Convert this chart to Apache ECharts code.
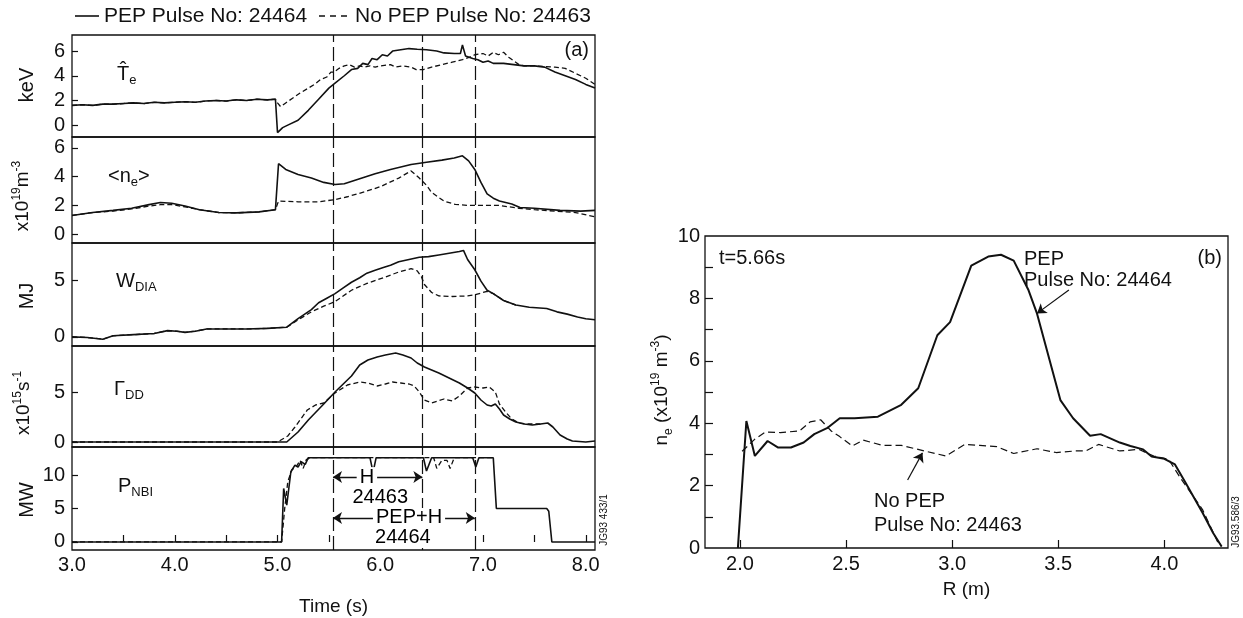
<!DOCTYPE html>
<html>
<head>
<meta charset="utf-8">
<script src="https://cdn.jsdelivr.net/npm/echarts@6.0.0/dist/echarts.min.js"></script>
<style>
html,body{margin:0;padding:0;background:#fff;}
#chart{width:1243px;height:618px;}
</style>
</head>
<body>
<div id="chart"></div>
<script>
// ---------------- DATA ----------------
const solidName = 'PEP Pulse No: 24464';
const dashedName = 'No PEP Pulse No: 24463';

// phase boundaries (s)
const phaseTimes = [5.54, 6.41, 6.92];

// (a) time traces  [t (s), value]
const teSolid = [[3.0,1.6],[3.1,1.65],[3.2,1.6],[3.3,1.7],[3.4,1.7],[3.5,1.75],[3.6,1.8],[3.7,1.75],[3.8,1.85],[3.9,1.8],[4.0,1.85],[4.1,1.9],[4.2,1.85],[4.3,1.95],[4.4,2.0],[4.5,1.95],[4.6,2.05],[4.7,2.0],[4.8,2.1],[4.9,2.05],[4.98,2.1],[5.0,-0.6],[5.05,-0.2],[5.1,0.0],[5.2,0.4],[5.3,1.2],[5.4,2.1],[5.5,3.0],[5.56,3.4],[5.65,4.0],[5.72,4.5],[5.78,4.6],[5.83,5.0],[5.88,4.9],[5.92,5.4],[5.97,5.3],[6.02,5.7],[6.07,5.6],[6.12,6.0],[6.2,6.1],[6.28,6.2],[6.36,6.15],[6.45,6.1],[6.55,6.0],[6.62,5.85],[6.72,5.8],[6.78,5.8],[6.8,6.5],[6.83,5.6],[6.9,5.4],[6.95,5.3],[7.0,5.1],[7.05,5.2],[7.1,5.0],[7.2,5.0],[7.3,4.9],[7.4,4.8],[7.5,4.8],[7.6,4.7],[7.7,4.3],[7.8,4.0],[7.9,3.7],[8.0,3.3],[8.09,3.0]];
const teDashed = [[3.0,1.6],[3.1,1.65],[3.2,1.6],[3.3,1.7],[3.4,1.7],[3.5,1.75],[3.6,1.8],[3.7,1.75],[3.8,1.85],[3.9,1.8],[4.0,1.85],[4.1,1.9],[4.2,1.85],[4.3,1.95],[4.4,2.0],[4.5,1.95],[4.6,2.05],[4.7,2.0],[4.8,2.1],[4.9,2.05],[4.98,2.1],[5.0,1.8],[5.03,1.5],[5.08,1.8],[5.15,2.2],[5.22,2.6],[5.3,3.0],[5.36,3.3],[5.42,3.7],[5.48,3.9],[5.52,4.3],[5.55,4.3],[5.6,4.6],[5.65,4.8],[5.7,4.9],[5.75,4.7],[5.8,4.8],[5.85,4.7],[5.9,4.8],[5.95,4.7],[6.0,4.8],[6.1,4.9],[6.15,4.7],[6.22,4.8],[6.3,4.7],[6.35,4.5],[6.42,4.5],[6.5,4.7],[6.6,4.9],[6.7,5.1],[6.8,5.3],[6.87,5.5],[6.92,5.7],[7.0,5.8],[7.05,5.6],[7.1,5.9],[7.15,5.7],[7.2,5.9],[7.25,5.5],[7.3,5.2],[7.35,4.9],[7.4,4.8],[7.5,4.8],[7.6,4.75],[7.7,4.7],[7.8,4.6],[7.9,4.2],[8.0,3.8],[8.09,3.3]];

const neSolid = [[3.0,1.3],[3.2,1.5],[3.4,1.65],[3.58,1.8],[3.75,2.05],[3.86,2.2],[3.97,2.15],[4.1,1.95],[4.24,1.7],[4.43,1.5],[4.6,1.48],[4.82,1.55],[4.98,1.7],[5.01,4.9],[5.08,4.5],[5.2,4.15],[5.33,3.9],[5.45,3.6],[5.56,3.45],[5.65,3.5],[5.8,3.85],[5.95,4.2],[6.1,4.5],[6.3,4.85],[6.45,5.0],[6.6,5.15],[6.72,5.3],[6.8,5.45],[6.86,5.1],[6.92,4.5],[6.98,3.6],[7.04,2.8],[7.1,2.5],[7.16,2.3],[7.28,2.1],[7.36,1.85],[7.5,1.8],[7.75,1.65],[7.95,1.6],[8.09,1.65]];
const neDashed = [[3.0,1.3],[3.2,1.5],[3.4,1.6],[3.58,1.75],[3.75,1.95],[3.86,2.05],[3.97,2.05],[4.1,1.9],[4.24,1.7],[4.43,1.5],[4.6,1.48],[4.82,1.55],[4.98,1.7],[5.01,2.3],[5.2,2.25],[5.4,2.25],[5.56,2.4],[5.68,2.6],[5.85,2.95],[6.0,3.3],[6.18,3.9],[6.3,4.4],[6.38,3.9],[6.45,3.4],[6.5,2.9],[6.62,2.3],[6.73,2.07],[6.85,2.0],[7.0,2.0],[7.15,2.0],[7.25,1.9],[7.35,1.8],[7.5,1.7],[7.7,1.6],[7.9,1.5],[8.09,1.2]];

const wSolid = [[3.0,0.0],[3.15,-0.05],[3.3,-0.2],[3.4,0.1],[3.6,0.2],[3.8,0.3],[3.93,0.55],[4.02,0.5],[4.1,0.4],[4.2,0.5],[4.31,0.7],[4.5,0.7],[4.7,0.7],[4.9,0.75],[5.09,0.85],[5.2,1.6],[5.33,2.4],[5.4,3.0],[5.48,3.4],[5.56,3.8],[5.64,4.3],[5.72,4.8],[5.8,5.2],[5.87,5.6],[5.95,5.85],[6.03,6.1],[6.1,6.3],[6.18,6.6],[6.28,6.8],[6.38,7.0],[6.47,7.05],[6.57,7.2],[6.67,7.35],[6.77,7.5],[6.81,7.6],[6.85,6.8],[6.92,5.9],[6.98,4.9],[7.04,4.1],[7.1,3.8],[7.2,3.2],[7.32,2.8],[7.45,2.6],[7.62,2.5],[7.72,2.2],[7.82,2.0],[7.92,1.75],[8.0,1.6],[8.09,1.5]];
const wDashed = [[3.0,0.0],[3.15,-0.05],[3.3,-0.2],[3.4,0.1],[3.6,0.2],[3.8,0.3],[3.93,0.55],[4.02,0.5],[4.1,0.4],[4.2,0.5],[4.31,0.7],[4.5,0.7],[4.7,0.7],[4.9,0.75],[5.09,0.85],[5.2,1.5],[5.33,2.2],[5.45,2.7],[5.56,3.1],[5.72,4.1],[5.87,4.7],[6.03,5.2],[6.18,5.7],[6.3,6.0],[6.36,5.8],[6.4,5.3],[6.43,4.6],[6.5,3.9],[6.57,3.6],[6.7,3.55],[6.85,3.6],[6.92,3.7],[6.98,3.85],[7.04,4.0],[7.1,3.8],[7.2,3.2],[7.32,2.8]];

const gSolid = [[3.0,0],[5.09,0],[5.2,1.0],[5.3,2.2],[5.45,3.8],[5.56,5.0],[5.64,5.8],[5.72,6.6],[5.8,7.7],[5.88,8.2],[5.97,8.5],[6.05,8.7],[6.15,8.9],[6.22,8.7],[6.3,8.4],[6.36,7.9],[6.43,7.5],[6.5,7.2],[6.57,6.9],[6.65,6.5],[6.77,5.9],[6.85,5.4],[6.92,4.9],[6.98,4.2],[7.04,3.7],[7.08,3.6],[7.12,3.8],[7.16,3.3],[7.2,2.7],[7.26,2.3],[7.32,2.0],[7.4,1.8],[7.48,1.7],[7.56,1.8],[7.63,1.9],[7.68,1.5],[7.75,0.7],[7.82,0.3],[7.87,0.1],[8.0,0.0],[8.09,0.1]];
const gDashed = [[3.0,0],[5.0,0],[5.1,0.6],[5.17,1.5],[5.29,3.2],[5.37,3.7],[5.45,3.9],[5.56,4.9],[5.68,5.7],[5.8,6.0],[5.88,5.9],[5.97,5.6],[6.05,5.8],[6.12,6.0],[6.2,5.9],[6.28,5.8],[6.33,5.6],[6.38,5.0],[6.43,4.2],[6.5,3.9],[6.56,4.1],[6.62,4.3],[6.7,4.1],[6.77,4.6],[6.85,5.4],[6.92,5.5],[7.0,5.4],[7.06,5.5],[7.12,5.0],[7.16,3.8],[7.22,3.0],[7.28,2.3],[7.35,1.9],[7.45,1.8],[7.56,1.8]];

const pSolid = [[3.0,0],[5.04,0],[5.06,8.0],[5.09,5.5],[5.13,10.5],[5.17,11.5],[5.2,11.2],[5.23,12.0],[5.27,11.6],[5.3,12.6],[5.9,12.6],[5.93,10.4],[5.96,12.6],[6.42,12.6],[6.45,10.6],[6.5,12.6],[6.9,12.6],[6.93,11.2],[6.96,12.6],[7.1,12.6],[7.13,5.0],[7.62,5.0],[7.64,4.6],[7.67,0],[8.09,0]];
const pDashed = [[3.0,0],[5.04,0],[5.07,5],[5.1,9],[5.14,10.8],[5.18,11.2],[5.22,12.2],[5.25,11.0],[5.28,12.3],[5.32,12.6],[6.52,12.6],[6.55,11.0],[6.6,12.2],[6.65,12.2],[6.68,11.0],[6.72,12.6],[7.1,12.6]];

// tick labels
const timeLabels = [3, 4, 5, 6, 7, 8];
const timeTicks = [3.5, 4, 4.5, 5, 5.5, 6, 6.5, 7, 7.5, 8];
const panelTicks = [[0,2,4,6],[0,2,4,6],[0,5],[0,5],[0,5,10]];
const rLabels = [2.0, 2.5, 3.0, 3.5, 4.0];
const neLabels = [0, 2, 4, 6, 8, 10];
const neMinorTicks = [1, 2, 3, 4, 5, 6, 7, 8, 9];

// (b) profiles  [R (m), n_e]
const profSolid = [[1.99,0],[2.03,4.07],[2.07,2.95],[2.13,3.43],[2.18,3.22],[2.24,3.22],[2.30,3.38],[2.35,3.65],[2.41,3.84],[2.47,4.16],[2.54,4.16],[2.65,4.21],[2.76,4.59],[2.84,5.12],[2.93,6.82],[2.99,7.24],[3.09,9.05],[3.17,9.34],[3.23,9.4],[3.29,9.21],[3.36,8.26],[3.40,7.51],[3.51,4.74],[3.57,4.16],[3.65,3.6],[3.70,3.65],[3.79,3.38],[3.84,3.27],[3.90,3.16],[3.94,2.93],[4.0,2.86],[4.05,2.68],[4.10,2.09],[4.18,1.13],[4.23,0.48],[4.27,0.05]];
const profDashed = [[2.01,3.1],[2.07,3.49],[2.12,3.72],[2.19,3.7],[2.28,3.75],[2.33,4.04],[2.38,4.11],[2.43,3.75],[2.47,3.57],[2.53,3.27],[2.58,3.46],[2.67,3.29],[2.76,3.29],[2.87,3.11],[2.97,2.95],[3.06,3.32],[3.13,3.29],[3.21,3.25],[3.29,3.03],[3.40,3.18],[3.49,3.06],[3.58,3.11],[3.63,3.11],[3.69,3.32],[3.79,3.11],[3.88,3.16],[3.95,2.95],[4.02,2.84],[4.08,2.2],[4.18,1.23],[4.25,0.21],[4.27,0.05]];

// annotations (data coordinates)
const nbiArrows = [[5.54, 6.41, 9.7], [5.54, 6.92, 3.6]];
const nbiText = [[5.87, 9.7, 'H'], [6.0, 6.6, '24463'], [6.28, 3.6, 'PEP+H'], [6.22, 0.6, '24464']];
const profArrows = [[3.55, 8.27, 3.40, 7.52], [2.79, 2.18, 2.86, 3.05]];

// ---------------- CHART ----------------
const FONT = '"Liberation Sans", Arial, Helvetica, sans-serif';
const INK = '#111111';
const chart = echarts.init(document.getElementById('chart'), null, {renderer: 'canvas'});

const leftLayout = [
  {top: 35, height: 102, min: -0.96, max: 7.3},
  {top: 137, height: 106, min: -0.62, max: 6.76},
  {top: 243, height: 103, min: -0.8, max: 8.25},
  {top: 346, height: 101, min: -0.5, max: 9.6},
  {top: 447, height: 103, min: -1.2, max: 14.2}
];
const leftSeries = [[teSolid, teDashed],[neSolid, neDashed],[wSolid, wDashed],[gSolid, gDashed],[pSolid, pDashed]];

const grid = [], xAxis = [], yAxis = [], series = [];
const tickStyle = {color: INK, width: 1.2};
const labelStyle = {color: INK, fontSize: 20, fontFamily: FONT};

leftLayout.forEach((L, i) => {
  grid.push({left: 72, width: 523, top: L.top, height: L.height, show: true,
    borderColor: INK, borderWidth: 1.3, outerBoundsMode: 'none'});
  const last = i === leftLayout.length - 1;
  xAxis.push({type: 'value', gridIndex: i, min: 3.0, max: 8.09,
    axisLine: {show: false}, splitLine: {show: false},
    axisTick: last ? {show: true, inside: true, length: 7, customValues: timeTicks, lineStyle: tickStyle} : {show: false},
    axisLabel: last ? Object.assign({show: true, margin: 5, customValues: timeLabels, formatter: v => v.toFixed(1)}, labelStyle) : {show: false},
    name: last ? 'Time (s)' : '', nameLocation: 'middle', nameGap: 47,
    nameTextStyle: {color: INK, fontSize: 19, fontFamily: FONT}
  });
  yAxis.push({type: 'value', gridIndex: i, min: L.min, max: L.max,
    axisLine: {show: false}, splitLine: {show: false},
    axisTick: {show: true, inside: true, length: 6, customValues: panelTicks[i], lineStyle: tickStyle},
    axisLabel: Object.assign({show: true, margin: 7, customValues: panelTicks[i]}, labelStyle)
  });
  const [sData, dData] = leftSeries[i];
  series.push({type: 'line', name: solidName, xAxisIndex: i, yAxisIndex: i, data: sData,
    showSymbol: false, symbol: 'none', lineStyle: {color: INK, width: 1.6}, itemStyle: {color: INK}, z: 3,
    markLine: {silent: true, symbol: ['none', 'none'], label: {show: false},
      lineStyle: {color: INK, width: 1.2, type: [14, 5]},
      data: phaseTimes.map(t => ({xAxis: t}))}
  });
  series.push({type: 'line', name: dashedName, xAxisIndex: i, yAxisIndex: i, data: dData,
    showSymbol: false, symbol: 'none', lineStyle: {color: INK, width: 1.3, type: [5, 3]}, itemStyle: {color: INK}, z: 2});
});

// NBI annotations
series.push({type: 'scatter', xAxisIndex: 4, yAxisIndex: 4, symbolSize: 1,
  itemStyle: {color: 'rgba(0,0,0,0)'}, z: 10, zlevel: 1,
  data: nbiText.map(d => ({value: [d[0], d[1]], name: d[2]})),
  label: {show: true, position: 'inside', formatter: p => p.name, color: '#000', opacity: 1,
    fontSize: 20, fontFamily: FONT, backgroundColor: '#fff', padding: [0, 3], textBorderWidth: 0},
  emphasis: {disabled: true},
  markLine: {silent: true, symbol: ['arrow', 'arrow'], symbolSize: 9, label: {show: false},
    lineStyle: {color: INK, width: 1.4, type: 'solid'}, z: 1,
    data: nbiArrows.map(a => [{coord: [a[0], a[2]]}, {coord: [a[1], a[2]]}])}
});

// Right panel
grid.push({left: 705, top: 236, width: 523, height: 312, show: true, borderColor: INK, borderWidth: 1.3, outerBoundsMode: 'none'});
xAxis.push({type: 'value', gridIndex: 5, min: 1.835, max: 4.30,
  axisLine: {show: false}, splitLine: {show: false},
  axisTick: {show: true, inside: true, length: 8, customValues: rLabels, lineStyle: tickStyle},
  axisLabel: Object.assign({show: true, margin: 6, customValues: rLabels, formatter: v => v.toFixed(1)}, labelStyle),
  name: 'R (m)', nameLocation: 'middle', nameGap: 32,
  nameTextStyle: {color: INK, fontSize: 19, fontFamily: FONT}
});
yAxis.push({type: 'value', gridIndex: 5, min: 0, max: 10,
  axisLine: {show: false}, splitLine: {show: false},
  axisTick: {show: true, inside: true, length: 8, customValues: neMinorTicks, lineStyle: tickStyle},
  axisLabel: Object.assign({show: true, margin: 5, customValues: neLabels}, labelStyle)
});
series.push({type: 'line', name: solidName, xAxisIndex: 5, yAxisIndex: 5, data: profSolid,
  showSymbol: false, symbol: 'none', lineStyle: {color: INK, width: 2.0}, itemStyle: {color: INK}, z: 3});
series.push({type: 'line', name: dashedName, xAxisIndex: 5, yAxisIndex: 5, data: profDashed,
  showSymbol: false, symbol: 'none', lineStyle: {color: INK, width: 1.2, type: [7, 4]}, itemStyle: {color: INK}, z: 2});
series.push({type: 'scatter', xAxisIndex: 5, yAxisIndex: 5, data: [], symbolSize: 0,
  markLine: {silent: true, symbol: ['none', 'arrow'], symbolSize: 9, label: {show: false},
    lineStyle: {color: INK, width: 1.2, type: 'solid'},
    data: profArrows.map(a => [{coord: [a[0], a[1]]}, {coord: [a[2], a[3]]}])}
});

function richLabel(main, sub, sup) {
  return {
    a: {fontSize: main, fontFamily: FONT, fill: INK, lineHeight: main + 6},
    s: {fontSize: sub, fontFamily: FONT, fill: INK, verticalAlign: 'bottom', lineHeight: sub + 2},
    p: {fontSize: sup, fontFamily: FONT, fill: INK, verticalAlign: 'top', lineHeight: sup + 2}
  };
}
function txt(x, y, text, opts) {
  opts = opts || {};
  return {type: 'text', x: x, y: y, rotation: opts.rot || 0, silent: true, z: 20,
    style: {text: text, fontSize: opts.size || 20, fontFamily: FONT, fill: INK,
      align: opts.align || 'left', verticalAlign: 'middle', rich: opts.rich}};
}
function seg(x1, y1, x2, y2, dash) {
  return {type: 'line', silent: true, z: 20, shape: {x1: x1, y1: y1, x2: x2, y2: y2},
    style: {stroke: INK, lineWidth: 1.6, lineDash: dash || null}};
}
const R = richLabel(20, 13, 12);
const RY = richLabel(19, 12, 12);
const graphic = [
  // legend
  seg(75, 16, 99, 16),
  txt(104, 16, solidName, {size: 21}),
  seg(319, 16, 347, 16, [6, 5]),
  txt(355, 16, dashedName, {size: 21}),
  // panel labels
  txt(117, 74, '{a|T\u0302}{s|e}', {rich: R}),
  txt(108, 176, '{a|<n}{s|e}{a|>}', {rich: R}),
  txt(116, 281, '{a|W}{s|DIA}', {rich: R}),
  txt(114, 389, '{a|\u0393}{s|DD}', {rich: R}),
  txt(118, 486, '{a|P}{s|NBI}', {rich: R}),
  txt(589, 50, '(a)', {align: 'right'}),
  txt(27, 85, 'keV', {rot: Math.PI / 2, align: 'center'}),
  txt(23, 196, '{a|x10}{p|19}{a|m}{p|-3}', {rot: Math.PI / 2, align: 'center', rich: RY}),
  txt(27, 296, 'MJ', {rot: Math.PI / 2, align: 'center'}),
  txt(24, 403, '{a|x10}{p|15}{a|s}{p|-1}', {rot: Math.PI / 2, align: 'center', rich: RY}),
  txt(27, 500, 'MW', {rot: Math.PI / 2, align: 'center'}),
  txt(604, 520, 'JG93 433/1', {rot: Math.PI / 2, align: 'center', size: 10}),
  txt(662, 390, '{a|n}{s|e}{a| (x10}{p|19}{a| m}{p|-3}{a|)}', {rot: Math.PI / 2, align: 'center', rich: RY}),
  txt(719, 258, 't=5.66s'),
  txt(1222, 258, '(b)', {align: 'right'}),
  txt(1024, 259, 'PEP'),
  txt(1024, 280, 'Pulse No: 24464'),
  txt(874, 501, 'No PEP'),
  txt(874, 525, 'Pulse No: 24463'),
  txt(1236, 522, 'JG93.586/3', {rot: Math.PI / 2, align: 'center', size: 10})
];

chart.setOption({
  animation: false,
  backgroundColor: '#fff',
  grid: grid, xAxis: xAxis, yAxis: yAxis, series: series, graphic: graphic
});
</script>
</body>
</html>
